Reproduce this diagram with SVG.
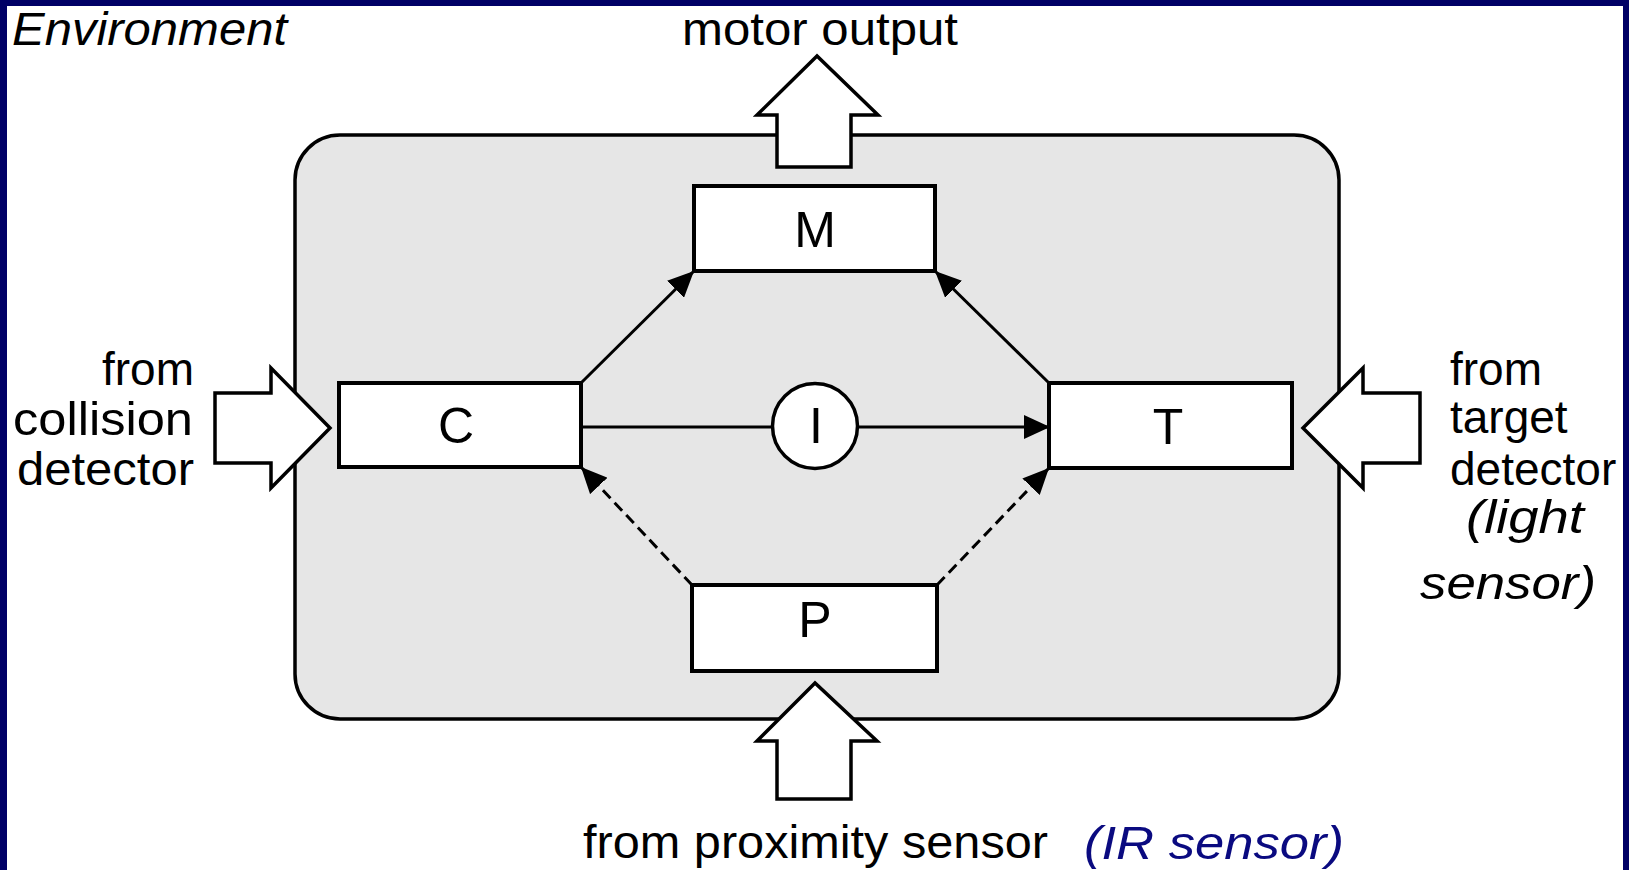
<svg xmlns="http://www.w3.org/2000/svg" width="1629" height="870" viewBox="0 0 1629 870">
<style>
.lbl{font-family:"Liberation Sans",Arial,sans-serif;font-size:46px;fill:#000}
.it{font-style:italic}
.box{fill:#fff;stroke:#000;stroke-width:4}
.big{font-family:"Liberation Sans",Arial,sans-serif;font-size:50px;fill:#000;text-anchor:middle}
.con{stroke:#000;stroke-width:3;fill:none}
.dash{stroke-dasharray:11 6}
.bigarrow{fill:#fff;stroke:#000;stroke-width:3.5;stroke-linejoin:miter}
</style>
<defs>
<marker id="ah" viewBox="0 0 26 24" refX="26" refY="12" markerWidth="26" markerHeight="24" markerUnits="userSpaceOnUse" orient="auto">
<path d="M0,0 L26,12 L0,24 z" fill="#000" stroke="none"/>
</marker>
</defs>
<rect x="0" y="0" width="1629" height="870" fill="#fff"/>
<rect x="0" y="0" width="1629" height="6" fill="#000066"/>
<rect x="0" y="0" width="7" height="870" fill="#000066"/>
<rect x="1623" y="0" width="6" height="870" fill="#000066"/>
<g id="environment">
<rect x="295" y="135" width="1044" height="584" rx="45" ry="45" fill="#e6e6e6" stroke="#000" stroke-width="3.5"/>
<text class="lbl it" x="12" y="45" font-size="48" textLength="275" lengthAdjust="spacingAndGlyphs">Environment</text>
</g>
<g id="motor-output">
<path class="bigarrow" d="M817,56 L757,115 L777,115 L777,167 L851,167 L851,115 L878,115 Z"/>
<text class="lbl" x="682" y="45" textLength="276" lengthAdjust="spacingAndGlyphs">motor output</text>
</g>
<g id="collision-input">
<path class="bigarrow" d="M330,428 L271,368 L271,393 L215,393 L215,463 L271,463 L271,488 Z"/>
<text class="lbl" text-anchor="end" x="194" y="385">from</text>
<text class="lbl" x="13" y="435" textLength="180" lengthAdjust="spacingAndGlyphs">collision</text>
<text class="lbl" x="17" y="485" textLength="177" lengthAdjust="spacingAndGlyphs">detector</text>
</g>
<g id="target-input">
<path class="bigarrow" d="M1303,428 L1363,368 L1363,393 L1420,393 L1420,463 L1363,463 L1363,488 Z"/>
<text class="lbl" x="1450" y="385">from</text>
<text class="lbl" x="1450" y="433">target</text>
<text class="lbl" x="1450" y="485">detector</text>
<text class="lbl it" x="1466" y="533" font-size="56" textLength="118" lengthAdjust="spacingAndGlyphs">(light</text>
<text class="lbl it" x="1420" y="599" font-size="56" textLength="176" lengthAdjust="spacingAndGlyphs">sensor)</text>
</g>
<g id="proximity-input">
<path class="bigarrow" d="M815,683 L757,741 L777,741 L777,799 L851,799 L851,741 L877,741 Z"/>
<text class="lbl" x="583" y="858" textLength="465" lengthAdjust="spacingAndGlyphs">from proximity sensor</text>
<text class="lbl it" x="1084" y="859" font-size="56" textLength="260" lengthAdjust="spacingAndGlyphs" style="fill:#0a0a80">(IR sensor)</text>
</g>
<g id="connectors">
<line class="con" x1="582" y1="382" x2="694" y2="271" marker-end="url(#ah)"/>
<line class="con" x1="1049" y1="383" x2="935" y2="271" marker-end="url(#ah)"/>
<line class="con dash" x1="692" y1="585" x2="581" y2="467" marker-end="url(#ah)"/>
<line class="con dash" x1="937" y1="585" x2="1049" y2="468" marker-end="url(#ah)"/>
<line class="con" x1="581" y1="427" x2="773" y2="427"/>
<line class="con" x1="858" y1="427" x2="1050" y2="427" marker-end="url(#ah)"/>
</g>
<g id="node-M">
<rect class="box" x="694" y="186" width="241" height="85"/>
<text class="big" x="815" y="247">M</text>
</g>
<g id="node-C">
<rect class="box" x="339" y="383" width="242" height="84"/>
<text class="big" x="456" y="443">C</text>
</g>
<g id="node-T">
<rect class="box" x="1049" y="383" width="243" height="85"/>
<text class="big" x="1168" y="444">T</text>
</g>
<g id="node-P">
<rect class="box" x="692" y="585" width="245" height="86"/>
<text class="big" x="815" y="637">P</text>
</g>
<g id="node-I">
<circle cx="815" cy="426" r="42.5" fill="#fff" stroke="#000" stroke-width="3.5"/>
<text class="big" x="816" y="443">I</text>
</g>
</svg>
